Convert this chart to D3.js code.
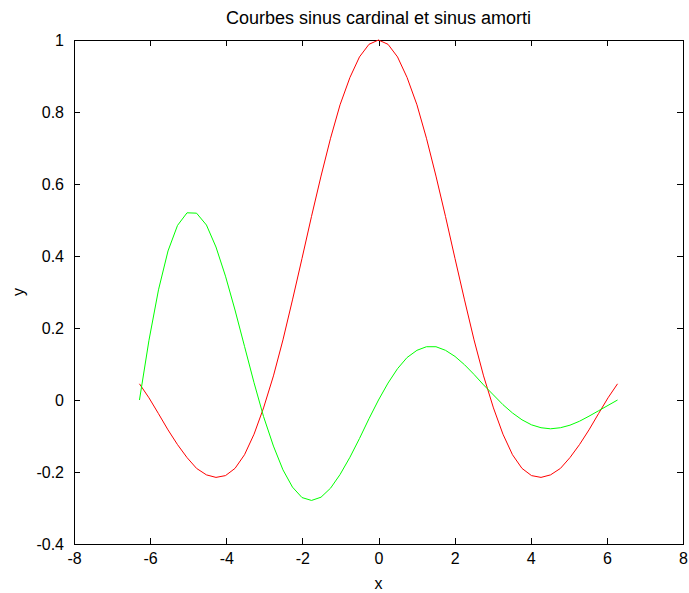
<!DOCTYPE html>
<html>
<head>
<meta charset="utf-8">
<script src="https://cdn.jsdelivr.net/npm/d3@7"></script>
<style>
  body { margin: 0; background: #fff; }
  text { font-family: "Liberation Sans", Arial, sans-serif; fill: #000; }
  .axis path, .axis line { stroke: #000; shape-rendering: crispEdges; }
</style>
</head>
<body>
<div id="chart"></div>
<script>
// x samples (-2pi .. 2pi)
let xs = [-6.28, -6.03, -5.78, -5.53, -5.28, -5.03, -4.78, -4.52, -4.27, -4.02,
  -3.77, -3.52, -3.27, -3.02, -2.76, -2.51, -2.26, -2.01, -1.76, -1.51,
  -1.26, -1.01, -0.75, -0.50, -0.25, 0, 0.25, 0.50, 0.75, 1.01,
  1.26, 1.51, 1.76, 2.01, 2.26, 2.51, 2.76, 3.02, 3.27, 3.52,
  3.77, 4.02, 4.27, 4.52, 4.78, 5.03, 5.28, 5.53, 5.78, 6.03, 6.28];

// sinus cardinal (red)
let sincVals = [0.045, 0.006, -0.038, -0.083, -0.124, -0.160, -0.190, -0.208, -0.215, -0.210,
  -0.190, -0.152, -0.095, -0.022, 0.067, 0.167, 0.278, 0.393, 0.510, 0.622,
  0.727, 0.820, 0.896, 0.953, 0.988, 1, 0.988, 0.953, 0.896, 0.820,
  0.727, 0.622, 0.510, 0.393, 0.278, 0.167, 0.067, -0.022, -0.095, -0.152,
  -0.190, -0.210, -0.215, -0.208, -0.190, -0.160, -0.124, -0.083, -0.038, 0.006, 0.045];

// sinus amorti (green)
let dampVals = [0, 0.166, 0.306, 0.414, 0.485, 0.520, 0.519, 0.486, 0.425, 0.344,
  0.250, 0.149, 0.048, -0.046, -0.128, -0.194, -0.242, -0.271, -0.279, -0.270,
  -0.245, -0.207, -0.159, -0.107, -0.052, 0, 0.047, 0.087, 0.118, 0.138,
  0.148, 0.148, 0.138, 0.121, 0.098, 0.071, 0.042, 0.014, -0.013, -0.036,
  -0.055, -0.069, -0.077, -0.080, -0.077, -0.070, -0.059, -0.045, -0.030, -0.015, 0];

let xTicks = [-8, -6, -4, -2, 0, 2, 4, 6, 8];
let yTicks = [-0.4, -0.2, 0, 0.2, 0.4, 0.6, 0.8, 1];

const width = 689, height = 593;
const margin = ({top: 40, right: 6, bottom: 49, left: 74});
const tickLen = 6;
const fontSize = 16;

let x = d3.scaleLinear().domain([-8, 8]).range([margin.left, width - margin.right]);
let y = d3.scaleLinear().domain([-0.4, 1]).range([height - margin.bottom, margin.top]);

let fmt = d => String(d);

let svg = d3.select("#chart").append("svg")
  .attr("width", width)
  .attr("height", height);

// axes box with inward ticks on all four sides
svg.append("g").attr("class", "axis")
  .attr("transform", `translate(0,${height - margin.bottom})`)
  .call(d3.axisBottom(x).tickValues(xTicks).tickFormat(fmt).tickSize(-tickLen).tickPadding(9).tickSizeOuter(0))
  .call(g => g.selectAll("text").attr("font-size", fontSize).attr("dy", "0.71em"));

svg.append("g").attr("class", "axis")
  .attr("transform", `translate(0,${margin.top})`)
  .call(d3.axisTop(x).tickValues(xTicks).tickSize(-tickLen).tickFormat("").tickSizeOuter(0));

svg.append("g").attr("class", "axis")
  .attr("transform", `translate(${margin.left},0)`)
  .call(d3.axisLeft(y).tickValues(yTicks).tickFormat(fmt).tickSize(-tickLen).tickPadding(10).tickSizeOuter(0))
  .call(g => g.selectAll("text").attr("font-size", fontSize));

svg.append("g").attr("class", "axis")
  .attr("transform", `translate(${width - margin.right},0)`)
  .call(d3.axisRight(y).tickValues(yTicks).tickSize(-tickLen).tickFormat("").tickSizeOuter(0));

svg.selectAll(".axis .domain").attr("stroke", "#000");

let line = d3.line()
  .x((d, i) => x(xs[i]))
  .y(d => y(d));

svg.append("path")
  .datum(sincVals)
  .attr("fill", "none")
  .attr("stroke", "#ff0000")
  .attr("stroke-width", 1)
  .attr("d", line);

svg.append("path")
  .datum(dampVals)
  .attr("fill", "none")
  .attr("stroke", "#00ff00")
  .attr("stroke-width", 1)
  .attr("d", line);

// title and axis labels
svg.append("text")
  .attr("text-anchor", "middle")
  .attr("font-size", 18)
  .attr("x", (margin.left + width - margin.right) / 2)
  .attr("y", 24)
  .text("Courbes sinus cardinal et sinus amorti");

svg.append("text")
  .attr("text-anchor", "middle")
  .attr("font-size", fontSize)
  .attr("x", (margin.left + width - margin.right) / 2)
  .attr("y", 589)
  .text("x");

svg.append("text")
  .attr("text-anchor", "middle")
  .attr("font-size", fontSize)
  .attr("transform", `translate(24,${(margin.top + height - margin.bottom) / 2}) rotate(-90)`)
  .text("y");
</script>
</body>
</html>
